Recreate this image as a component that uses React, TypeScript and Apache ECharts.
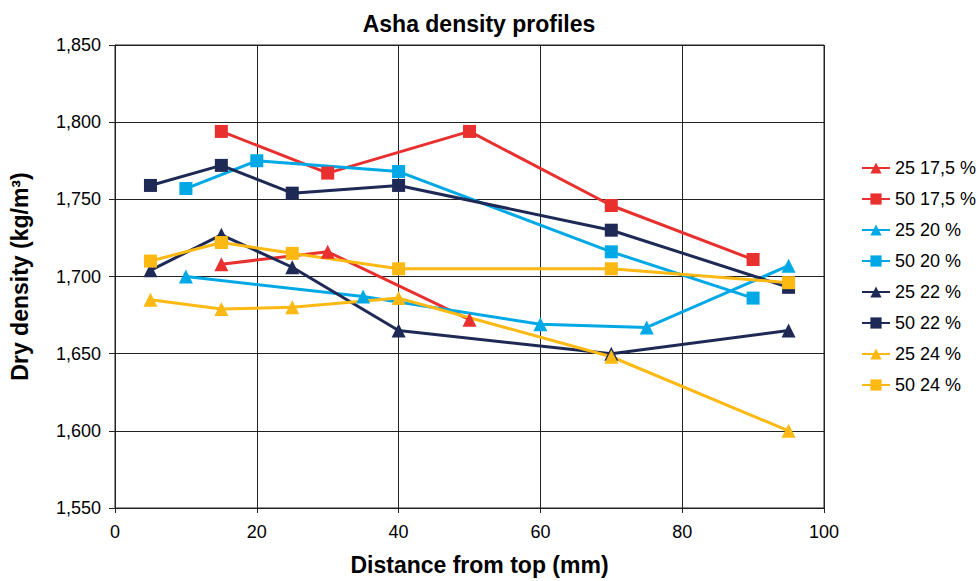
import React, { useEffect, useRef } from "react";
import * as echarts from "echarts";

const seriesNames = ["25 17,5 %", "50 17,5 %", "25 20 %", "50 20 %", "25 22 %", "50 22 %", "25 24 %", "50 24 %"];
const seriesColors = ["#E8312F", "#E8312F", "#00A9E6", "#00A9E6", "#1E2A55", "#1E2A55", "#FDB913", "#FDB913"];
const seriesSymbols = ["triangle", "rect", "triangle", "rect", "triangle", "rect", "triangle", "rect"];

const red25: [number, number][] = [[15, 1708], [30, 1716], [50, 1672]];
const red50: [number, number][] = [[15, 1794], [30, 1767], [50, 1794], [70, 1746], [90, 1711]];
const blue25: [number, number][] = [[10, 1700], [35, 1687], [60, 1669], [75, 1667], [95, 1707]];
const blue50: [number, number][] = [[10, 1757], [20, 1775], [40, 1768], [70, 1716], [90, 1686]];
const navy25: [number, number][] = [[5, 1704], [15, 1727], [25, 1706], [40, 1665], [70, 1650], [95, 1665]];
const navy50: [number, number][] = [[5, 1759], [15, 1772], [25, 1754], [40, 1759], [70, 1730], [95, 1693]];
const yellow25: [number, number][] = [[5, 1685], [15, 1679], [25, 1680], [40, 1686], [70, 1648], [95, 1600]];
const yellow50: [number, number][] = [[5, 1710], [15, 1722], [25, 1715], [40, 1705], [70, 1705], [95, 1696]];

const allData = [red25, red50, blue25, blue50, navy25, navy50, yellow25, yellow50];

const FONT = "'Liberation Sans', Arial, sans-serif";

export default function App() {
  const ref = useRef<HTMLDivElement>(null);
  useEffect(() => {
    if (!ref.current) return;
    const chart = echarts.init(ref.current, undefined, { renderer: "svg" });
    chart.setOption({
      animation: false,
      backgroundColor: "#ffffff",
      title: {
        text: "Asha density profiles",
        left: 474,
        top: 7,
        textAlign: "center",
        textStyle: { fontFamily: FONT, fontSize: 23, fontWeight: "bold", color: "#000" },
      },
      grid: {
        left: 112,
        right: 155,
        top: 45,
        bottom: 69,
        show: true,
        borderColor: "#222",
        borderWidth: 1,
      },
      legend: {
        orient: "vertical",
        left: 856,
        top: 154,
        itemGap: 13,
        itemWidth: 28,
        itemHeight: 14,
        data: seriesNames,
        textStyle: { fontFamily: FONT, fontSize: 18, color: "#000" },
      },
      xAxis: {
        type: "value",
        min: 0,
        max: 100,
        interval: 20,
        name: "Distance from top (mm)",
        nameLocation: "middle",
        nameGap: 45,
        nameTextStyle: { fontFamily: FONT, fontSize: 23, fontWeight: "bold", color: "#000", padding: [0, 0, 0, 20] },
        axisLine: { show: true, lineStyle: { color: "#222", width: 1 } },
        axisTick: { show: true, length: 5, lineStyle: { color: "#222" } },
        axisLabel: { fontFamily: FONT, fontSize: 18, color: "#000", margin: 15 },
        splitLine: { show: true, lineStyle: { color: "#222", width: 1 } },
      },
      yAxis: {
        type: "value",
        min: 1550,
        max: 1850,
        interval: 50,
        name: "Dry density (kg/m³)",
        nameLocation: "middle",
        nameGap: 84,
        nameTextStyle: { fontFamily: FONT, fontSize: 23, fontWeight: "bold", color: "#000" },
        axisLine: { show: true, lineStyle: { color: "#222", width: 1 } },
        axisTick: { show: true, length: 6, lineStyle: { color: "#222" } },
        axisLabel: {
          fontFamily: FONT,
          fontSize: 18,
          color: "#000",
          margin: 14,
          formatter: (v: number) => v.toLocaleString("en-US"),
        },
        splitLine: { show: true, lineStyle: { color: "#222", width: 1 } },
      },
      series: allData.map((d, i) => ({
        name: seriesNames[i],
        type: "line",
        data: d,
        symbol: seriesSymbols[i],
        symbolSize: seriesSymbols[i] === "rect" ? 13 : 14,
        showAllSymbol: true,
        lineStyle: { color: seriesColors[i], width: 3 },
        itemStyle: { color: seriesColors[i] },
        emphasis: { disabled: true },
      })),
    });
    return () => chart.dispose();
  }, []);
  return <div ref={ref} style={{ width: 979, height: 581, position: "absolute", left: 0, top: 0 }} />;
}
